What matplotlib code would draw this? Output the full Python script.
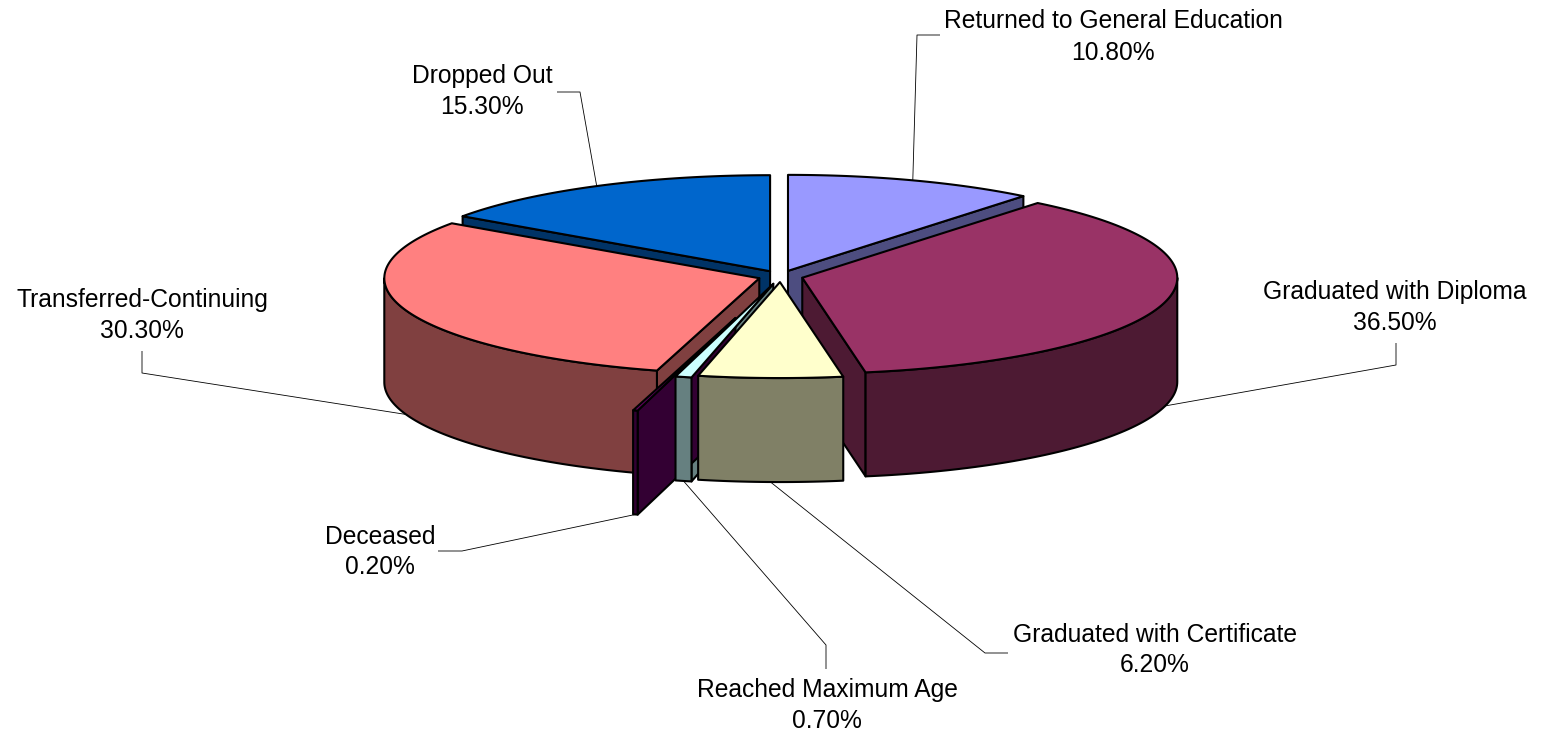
import numpy as np
import matplotlib
matplotlib.use('Agg')
import matplotlib.pyplot as plt
from matplotlib.patches import Polygon
from matplotlib.colors import to_rgb

# data, clockwise from 12 o'clock
labels = ['Returned to General Education', 'Graduated with Diploma',
          'Graduated with Certificate', 'Reached Maximum Age', 'Deceased',
          'Transferred-Continuing', 'Dropped Out']
values = [10.8, 36.5, 6.2, 0.7, 0.2, 30.3, 15.3]

# style
colors  = ['#9999FF', '#993366', '#FFFFCC', '#CCFFFF', '#660066', '#FF8080', '#0066CC']
explode = [0.06, 0.06, 0.06, 0.08, 0.45, 0.06, 0.06]

# layout (pixels)
CX, CY = 780.5, 276.3
RX, RY = 375.0, 96.0
DEPTH = 104.0
label_xy = [(1113, 37), (1395, 308), (1155, 650), (827, 705), (380, 552), (142, 315), (482, 91)]
elbow = [((917, 35), (940, 35)), ((1396, 365), (1396, 343)), ((985, 653), (1008, 653)),
         ((826, 645), (826, 669)), ((462, 551), (438, 551)), ((142, 373), (142, 351)),
         ((580, 92), (557, 92))]
LINE_GAP = 15.5
FONT = 'Liberation Sans'
FSIZE = 17.7
EDGE_LW = 1.5


def shade(c, k=0.5):
    r, g, b = to_rgb(c)
    return (r * k, g * k, b * k)


def to_screen(u, v, h, off):
    return (CX + RX * (u + off[0]), CY - RY * (v + off[1]) + h)


def arc(a0, a1, r, h, off):
    n = max(2, int(abs(a1 - a0) / 1.0) + 2)
    t = np.radians(np.linspace(a0, a1, n))
    return [to_screen(r * np.sin(x), r * np.cos(x), h, off) for x in t]


def front(us_vs, off):
    return np.mean([-(v + off[1]) for _, v in us_vs])


fig = plt.figure(figsize=(15.43, 7.36), dpi=100)
ax = fig.add_axes([0, 0, 1, 1])
ax.set_xlim(0, 1543)
ax.set_ylim(736, 0)
ax.axis('off')

total = float(sum(values))
bounds = np.concatenate([[0], np.cumsum(values)]) / total * 360.0

walls = []
tops = []
anchors = []
for i, val in enumerate(values):
    a0, a1 = bounds[i], bounds[i + 1]
    am = np.radians((a0 + a1) / 2)
    off = (explode[i] * np.sin(am), explode[i] * np.cos(am))
    side = shade(colors[i])

    # top face
    pts = [to_screen(0, 0, 0, off)] + arc(a0, a1, 1, 0, off)
    tops.append((pts, colors[i]))

    # curved outer wall, front half only
    lo, hi = max(a0, 90), min(a1, 270)
    if hi > lo:
        top_arc = arc(lo, hi, 1, 0, off)
        bot_arc = arc(lo, hi, 1, DEPTH, off)
        mids = np.radians(np.linspace(lo, hi, 8))
        key = front([(np.sin(m), np.cos(m)) for m in mids], off)
        walls.append((key, top_arc + bot_arc[::-1], side))

    # radial walls (start edge faces a0-90, end edge faces a1+90)
    for ang, nrm in ((a0, a0 - 90), (a1, a1 + 90)):
        if np.cos(np.radians(nrm)) < -1e-6:
            r = np.radians(ang)
            u, v = np.sin(r), np.cos(r)
            quad = [to_screen(0, 0, 0, off), to_screen(u, v, 0, off),
                    to_screen(u, v, DEPTH, off), to_screen(0, 0, DEPTH, off)]
            key = front([(0, 0), (u, v), (0.5 * u, 0.5 * v)], off)
            walls.append((key, quad, side))

    # leader attach point: top rim for back slices, bottom rim for front ones
    h = 0 if np.cos(am) > 0 else DEPTH
    anchors.append(to_screen(np.sin(am), np.cos(am), h, off))

for key, pts, col in sorted(walls, key=lambda w: w[0]):
    ax.add_patch(Polygon(pts, closed=True, facecolor=col, edgecolor='black',
                         linewidth=EDGE_LW, joinstyle='round'))
for pts, col in tops:
    ax.add_patch(Polygon(pts, closed=True, facecolor=col, edgecolor='black',
                         linewidth=EDGE_LW, joinstyle='round'))

for i, lab in enumerate(labels):
    (ex, ey), (tx, ty) = elbow[i]
    ax.plot([anchors[i][0], ex, tx], [anchors[i][1], ey, ty], color='black',
            linewidth=0.6, solid_capstyle='butt')
    lx, ly = label_xy[i]
    ax.text(lx, ly - LINE_GAP, lab, ha='center', va='center',
            fontsize=FSIZE, family=FONT, color='black')
    ax.text(lx, ly + LINE_GAP, f'{values[i]:.2f}%', ha='center', va='center',
            fontsize=FSIZE, family=FONT, color='black')

fig.savefig('out.png', dpi=100, facecolor='white')
